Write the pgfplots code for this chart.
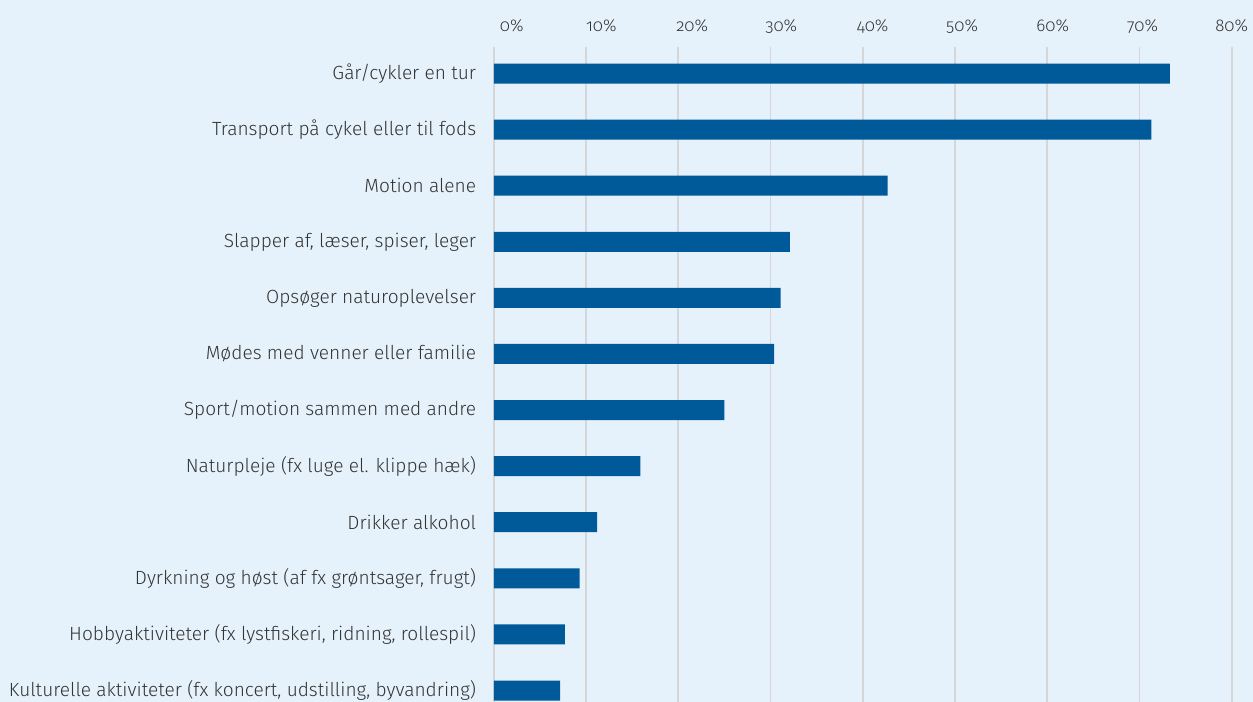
\documentclass[border=0pt]{standalone}
\usepackage{pgfplots}
\pgfplotsset{compat=1.18}
\usepackage{fontspec}
\setmainfont{Fira Sans Light}[Numbers=OldStyle]
\definecolor{bg}{HTML}{E6F2FB}
\definecolor{bar}{HTML}{005A9A}
\definecolor{txt}{HTML}{333333}
\definecolor{grd}{HTML}{D6D6D6}
\begin{document}
\begin{tikzpicture}
\fill[bg] (0,0) rectangle (1253bp,702bp);
\begin{axis}[
  at={(493.8bp,0bp)}, anchor=south west,
  scale only axis, width=737.9bp, height=655.3bp,
  xmin=0, xmax=80, ymin=0.522, ymax=12.205,
  y dir=reverse,
  xbar, bar width=20bp,
  axis line style={draw=none},
  major tick length=0pt,
  xtick={1.95,11.65,21.51,31.16,41.07,50.77,60.6,70.34,80},
  xticklabels={0\%,10\%,20\%,30\%,40\%,50\%,60\%,70\%,80\%},
  xticklabel pos=upper,
  xticklabel style={font=\fontsize{17bp}{20bp}\selectfont, text=txt, anchor=base, yshift=15bp, inner sep=0pt},
  extra x ticks={0,10,...,80},
  extra x tick labels={},
  extra x tick style={grid=major, major grid style={draw=grd, line width=1.8bp}},
  ytick={1,...,12},
  yticklabels={Går/cykler en tur, Transport på cykel eller til fods, Motion alene, {Slapper af, læser, spiser, leger}, Opsøger naturoplevelser, Mødes med venner eller familie, Sport/motion sammen med andre, Naturpleje (fx luge el. klippe hæk), Drikker alkohol, {Dyrkning og høst (af fx grøntsager, frugt)}, {Hobbyaktiviteter (fx lystfiskeri, ridning, rollespil)}, {Kulturelle aktiviteter (fx koncert, udstilling, byvandring)}},
  yticklabel style={font=\fontsize{19.1bp}{22bp}\selectfont, text=txt, anchor=east, inner sep=0pt, xshift=-17.5bp},
  clip=false,
]
\addplot[fill=bar, draw=none] coordinates {
(73.3,1) (71.3,2) (42.7,3) (32.1,4) (31.1,5) (30.4,6) (25.0,7) (15.9,8) (11.2,9) (9.3,10) (7.7,11) (7.2,12)
};
\end{axis}
\pgfresetboundingbox
\path (0,0) rectangle (1253bp,702bp);
\end{tikzpicture}
\end{document}
